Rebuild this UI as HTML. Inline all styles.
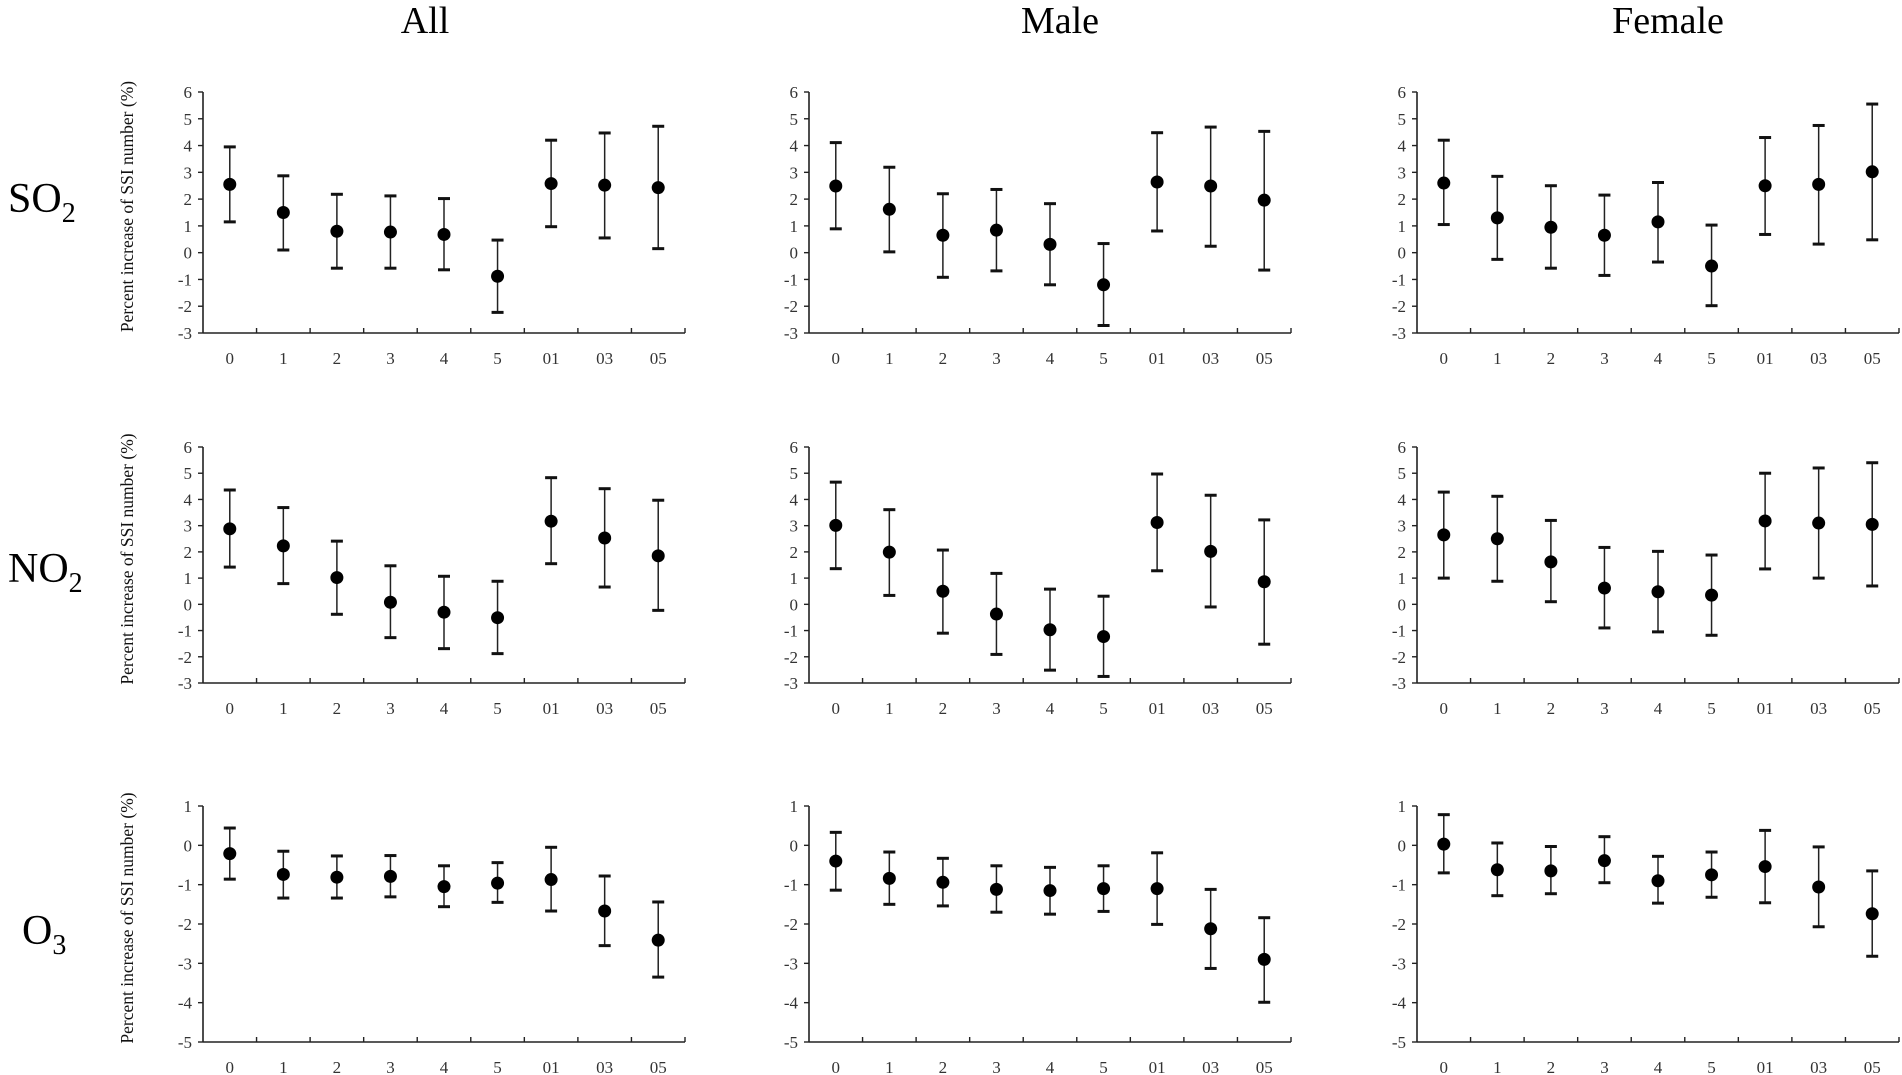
<!DOCTYPE html>
<html><head><meta charset="utf-8"><style>
body{margin:0;background:#fff;}
svg{display:block;font-family:"Liberation Serif",serif;}
</style></head><body>
<svg id="chart" width="1902" height="1075" viewBox="0 0 1902 1075" xmlns="http://www.w3.org/2000/svg">
<text x="425" y="33" font-size="38" text-anchor="middle">All</text>
<text x="1060" y="33" font-size="38" text-anchor="middle">Male</text>
<text x="1668" y="33" font-size="38" text-anchor="middle">Female</text>
<text x="8" y="212" font-size="42">SO<tspan font-size="28" dy="10">2</tspan></text>
<text x="8" y="582" font-size="42">NO<tspan font-size="28" dy="10">2</tspan></text>
<text x="22" y="944" font-size="42">O<tspan font-size="28" dy="10">3</tspan></text>
</svg>
<script>
const categories = ["0","1","2","3","4","5","01","03","05"];
const pollutants = ["so2","no2","o3"];
const groups = ["all","male","female"];
const yTicksSO2 = [-3,-2,-1,0,1,2,3,4,5,6];
const yTicksO3 = [-5,-4,-3,-2,-1,0,1];

const so2AllEst = [2.55,1.5,0.8,0.77,0.68,-0.88,2.58,2.52,2.43];
const so2AllLo  = [1.15,0.1,-0.58,-0.58,-0.64,-2.23,0.97,0.55,0.15];
const so2AllHi  = [3.95,2.87,2.18,2.12,2.02,0.47,4.2,4.47,4.72];
const so2MaleEst = [2.49,1.62,0.65,0.84,0.31,-1.2,2.64,2.49,1.96];
const so2MaleLo  = [0.89,0.03,-0.92,-0.68,-1.2,-2.72,0.81,0.24,-0.65];
const so2MaleHi  = [4.11,3.19,2.2,2.36,1.83,0.34,4.48,4.69,4.53];
const so2FemaleEst = [2.6,1.3,0.95,0.65,1.15,-0.5,2.5,2.55,3.02];
const so2FemaleLo  = [1.05,-0.25,-0.58,-0.85,-0.35,-1.98,0.68,0.32,0.48];
const so2FemaleHi  = [4.2,2.85,2.5,2.15,2.62,1.03,4.3,4.75,5.55];

const no2AllEst = [2.88,2.23,1.02,0.08,-0.3,-0.51,3.17,2.53,1.85];
const no2AllLo  = [1.42,0.79,-0.38,-1.27,-1.69,-1.88,1.55,0.66,-0.23];
const no2AllHi  = [4.36,3.69,2.41,1.47,1.07,0.88,4.83,4.41,3.97];
const no2MaleEst = [3.01,1.99,0.5,-0.37,-0.97,-1.23,3.12,2.02,0.86];
const no2MaleLo  = [1.36,0.34,-1.1,-1.91,-2.51,-2.75,1.28,-0.1,-1.52];
const no2MaleHi  = [4.66,3.61,2.07,1.18,0.58,0.31,4.97,4.16,3.22];
const no2FemaleEst = [2.65,2.5,1.62,0.62,0.48,0.35,3.18,3.1,3.05];
const no2FemaleLo  = [1.0,0.88,0.1,-0.9,-1.05,-1.18,1.35,1.0,0.7];
const no2FemaleHi  = [4.28,4.12,3.2,2.17,2.02,1.88,5.0,5.2,5.4];

const o3AllEst = [-0.21,-0.74,-0.81,-0.79,-1.05,-0.96,-0.87,-1.67,-2.41];
const o3AllLo  = [-0.86,-1.34,-1.34,-1.31,-1.56,-1.45,-1.67,-2.55,-3.35];
const o3AllHi  = [0.44,-0.15,-0.27,-0.26,-0.52,-0.44,-0.05,-0.78,-1.44];
const o3MaleEst = [-0.4,-0.84,-0.94,-1.12,-1.15,-1.1,-1.1,-2.12,-2.9];
const o3MaleLo  = [-1.14,-1.5,-1.54,-1.7,-1.75,-1.68,-2.01,-3.13,-3.99];
const o3MaleHi  = [0.33,-0.17,-0.33,-0.52,-0.56,-0.52,-0.19,-1.12,-1.84];
const o3FemaleEst = [0.03,-0.62,-0.65,-0.39,-0.9,-0.75,-0.54,-1.06,-1.74];
const o3FemaleLo  = [-0.7,-1.28,-1.23,-0.95,-1.47,-1.32,-1.46,-2.07,-2.82];
const o3FemaleHi  = [0.78,0.06,-0.03,0.22,-0.28,-0.17,0.38,-0.04,-0.65];

const series = {
  so2:{all:[so2AllEst,so2AllLo,so2AllHi],male:[so2MaleEst,so2MaleLo,so2MaleHi],female:[so2FemaleEst,so2FemaleLo,so2FemaleHi]},
  no2:{all:[no2AllEst,no2AllLo,no2AllHi],male:[no2MaleEst,no2MaleLo,no2MaleHi],female:[no2FemaleEst,no2FemaleLo,no2FemaleHi]},
  o3:{all:[o3AllEst,o3AllLo,o3AllHi],male:[o3MaleEst,o3MaleLo,o3MaleHi],female:[o3FemaleEst,o3FemaleLo,o3FemaleHi]}
};

const NS = "http://www.w3.org/2000/svg";
const svg = document.getElementById("chart");
const colX = [203, 809, 1417];
const rowTop = [92, 447, 806];
const rowBot = [333, 683, 1042];
const plotW = 482;

function mk(tag, attrs, parent){
  const e = document.createElementNS(NS, tag);
  for (const k in attrs) e.setAttribute(k, attrs[k]);
  (parent||svg).appendChild(e);
  return e;
}

pollutants.forEach((p, ri) => {
  const ticks = p === "o3" ? yTicksO3 : yTicksSO2;
  const yMin = ticks[0], yMax = ticks[ticks.length-1];
  const top = rowTop[ri], bot = rowBot[ri];
  const yS = v => bot - (v - yMin) / (yMax - yMin) * (bot - top);
  groups.forEach((g, ci) => {
    const x0 = colX[ci];
    const step = plotW / categories.length;
    const xS = i => x0 + step * (i + 0.5);
    const grp = mk("g", {});
    
    
    const yAxis = mk("line", {x1:x0, y1:top, x2:x0, y2:bot, stroke:"#222", "stroke-width":1.6}, grp);
    
    
    const xAxis = mk("line", {x1:x0, y1:bot, x2:x0+plotW, y2:bot, stroke:"#222", "stroke-width":1.6}, grp);
    
    
    ticks.forEach(t => {
      const y = yS(t);
      mk("line", {x1:x0-5, y1:y, x2:x0, y2:y, stroke:"#222", "stroke-width":1.4}, grp);
      const lbl = mk("text", {x:x0-11, y:y+6, "font-size":17, "text-anchor":"end", fill:"#333"}, grp);
      
      
      lbl.textContent = t;
    });
    for (let i = 1; i <= categories.length; i++) {
      const x = x0 + step * i;
      mk("line", {x1:x, y1:bot-5, x2:x, y2:bot, stroke:"#222", "stroke-width":1.4}, grp);
    }
    const [est, lo, hi] = series[p][g];
    categories.forEach((c, i) => {
      const x = xS(i);
      const lbl = mk("text", {x:x, y:bot+31, "font-size":17, "text-anchor":"middle", fill:"#333"}, grp);
      
      
      lbl.textContent = c;
      const eb = mk("g", {}, grp);
      
      
      mk("line", {x1:x, y1:yS(lo[i]), x2:x, y2:yS(hi[i]), stroke:"#222", "stroke-width":1.5}, eb);
      mk("line", {x1:x-6, y1:yS(lo[i]), x2:x+6, y2:yS(lo[i]), stroke:"#111", "stroke-width":3}, eb);
      mk("line", {x1:x-6, y1:yS(hi[i]), x2:x+6, y2:yS(hi[i]), stroke:"#111", "stroke-width":3}, eb);
      const dot = mk("circle", {cx:x, cy:yS(est[i]), r:6.5, fill:"#000"}, eb);
      
      
    });
    if (g === "all") {
      const cy = (top + bot) / 2 - 6;
      const tt = mk("text", {x:0, y:0, "font-size":17.5, "text-anchor":"middle", fill:"#111", transform:"translate(" + (x0-70) + "," + cy + ") rotate(-90)"}, grp);
      
      
      tt.textContent = "Percent increase of SSI number (%)";
    }
  });
});
</script>
</body></html>
